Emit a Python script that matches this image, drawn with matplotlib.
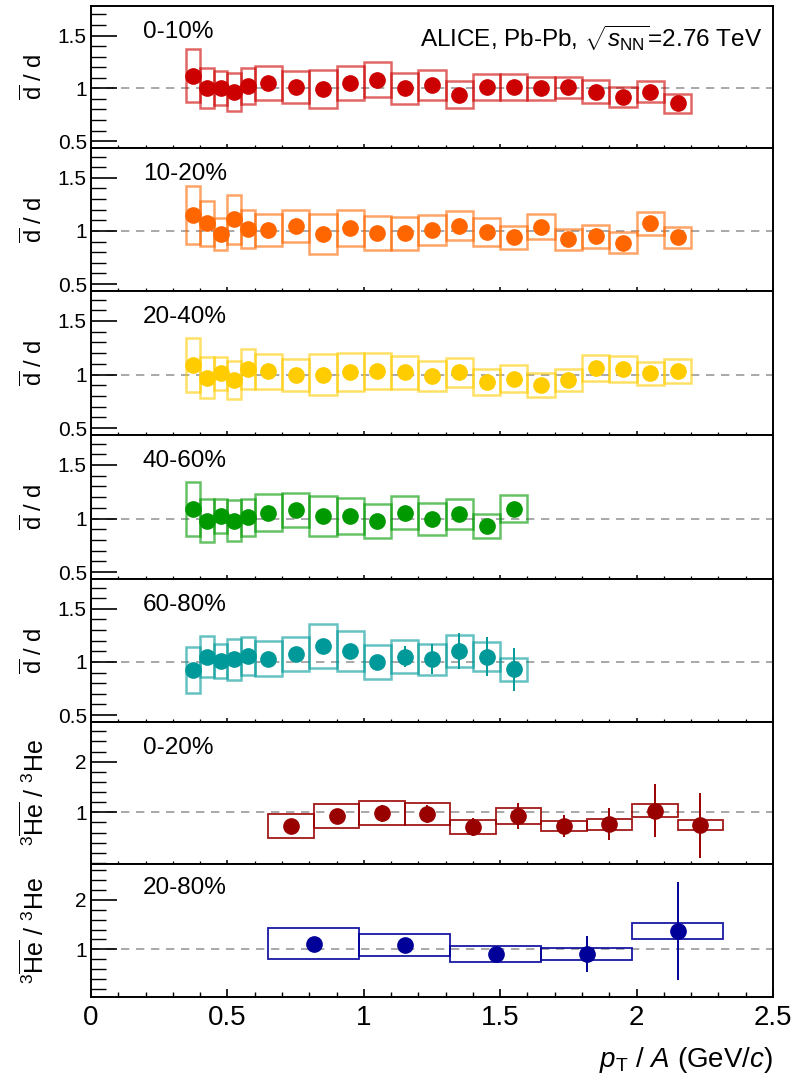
import matplotlib
matplotlib.use("Agg")
import matplotlib.pyplot as plt
from matplotlib.patches import Rectangle
from matplotlib.ticker import MultipleLocator, FixedLocator, FixedFormatter

plt.rcParams['font.family'] = ['Liberation Sans', 'DejaVu Sans']
plt.rcParams['mathtext.fontset'] = 'custom'
plt.rcParams['mathtext.rm'] = 'Liberation Sans'
plt.rcParams['mathtext.it'] = 'Liberation Sans:italic'
plt.rcParams['mathtext.bf'] = 'Liberation Sans:bold'

# ---------------- data ----------------
d_edges_full = [0.35, 0.40, 0.45, 0.50, 0.55, 0.60, 0.70, 0.80, 0.90, 1.00, 1.10,
                1.20, 1.30, 1.40, 1.50, 1.60, 1.70, 1.80, 1.90, 2.00, 2.10, 2.20]
d_edges_short = [0.35, 0.40, 0.45, 0.50, 0.55, 0.60, 0.70, 0.80, 0.90, 1.00, 1.10,
                 1.20, 1.30, 1.40, 1.50, 1.60]

d_0_10 = [1.12, 1.00, 1.00, 0.97, 1.02, 1.05, 1.01, 0.99, 1.05, 1.08, 1.00,
          1.03, 0.94, 1.01, 1.01, 1.00, 1.01, 0.97, 0.92, 0.97, 0.86]
d_0_10_sys = [0.25, 0.19, 0.16, 0.18, 0.17, 0.165, 0.15, 0.18, 0.16, 0.165, 0.15,
              0.14, 0.125, 0.125, 0.125, 0.11, 0.10, 0.11, 0.095, 0.10, 0.09]
d_0_10_stat = [0.02, 0.02, 0.02, 0.02, 0.02, 0.02, 0.02, 0.02, 0.02, 0.02, 0.02,
               0.02, 0.02, 0.02, 0.02, 0.02, 0.02, 0.02, 0.03, 0.03, 0.03]

d_10_20 = [1.15, 1.07, 0.975, 1.11, 1.015, 1.01, 1.045, 0.97, 1.03, 0.98, 0.98,
           1.01, 1.05, 0.99, 0.94, 1.04, 0.92, 0.95, 0.89, 1.07, 0.94]
d_10_20_sys = [0.27, 0.21, 0.15, 0.23, 0.18, 0.15, 0.15, 0.185, 0.17, 0.16, 0.155,
               0.14, 0.14, 0.13, 0.11, 0.115, 0.10, 0.11, 0.10, 0.11, 0.10]
d_10_20_stat = [0.02, 0.02, 0.02, 0.02, 0.02, 0.02, 0.02, 0.02, 0.02, 0.02, 0.02,
                0.02, 0.02, 0.02, 0.02, 0.03, 0.03, 0.03, 0.03, 0.04, 0.04]

d_20_40 = [1.09, 0.97, 1.01, 0.95, 1.05, 1.03, 0.995, 1.00, 1.025, 1.03, 1.02,
           0.99, 1.02, 0.93, 0.96, 0.90, 0.95, 1.06, 1.05, 1.01, 1.035]
d_20_40_sys = [0.25, 0.19, 0.155, 0.18, 0.185, 0.165, 0.15, 0.19, 0.18, 0.17, 0.155,
               0.14, 0.135, 0.12, 0.125, 0.11, 0.10, 0.12, 0.12, 0.11, 0.11]
d_20_40_stat = [0.02, 0.02, 0.02, 0.02, 0.02, 0.02, 0.02, 0.02, 0.02, 0.02, 0.02,
                0.02, 0.02, 0.02, 0.02, 0.03, 0.03, 0.03, 0.03, 0.04, 0.04]

d_40_60 = [1.09, 0.98, 1.025, 0.98, 1.01, 1.055, 1.08, 1.025, 1.025, 0.98, 1.055,
           0.995, 1.04, 0.93, 1.09]
d_40_60_sys = [0.25, 0.20, 0.16, 0.19, 0.17, 0.17, 0.16, 0.185, 0.17, 0.16, 0.155,
               0.15, 0.14, 0.11, 0.125]
d_40_60_stat = [0.02, 0.02, 0.02, 0.02, 0.02, 0.02, 0.02, 0.02, 0.02, 0.03, 0.03,
                0.03, 0.04, 0.05, 0.06]

d_60_80 = [0.925, 1.05, 1.01, 1.025, 1.055, 1.03, 1.07, 1.15, 1.10, 1.00, 1.05,
           1.025, 1.10, 1.05, 0.93]
d_60_80_sys = [0.215, 0.19, 0.16, 0.195, 0.18, 0.165, 0.16, 0.21, 0.19, 0.16, 0.155,
               0.145, 0.15, 0.135, 0.11]
d_60_80_stat = [0.02, 0.02, 0.02, 0.02, 0.02, 0.02, 0.03, 0.04, 0.05, 0.06, 0.10,
                0.14, 0.17, 0.18, 0.20]

he_0_20_edges = [0.650, 0.817, 0.983, 1.150, 1.317, 1.483, 1.650, 1.817, 1.983, 2.150, 2.317]
he_0_20 = [0.733, 0.927, 0.98, 0.967, 0.713, 0.927, 0.733, 0.767, 1.033, 0.747]
he_0_20_sys = [0.233, 0.237, 0.237, 0.223, 0.137, 0.16, 0.103, 0.11, 0.133, 0.103]
he_0_20_stat = [0.05, 0.08, 0.17, 0.17, 0.18, 0.26, 0.22, 0.32, 0.52, 0.64]

he_20_80_edges = [0.650, 0.983, 1.317, 1.650, 1.983, 2.317]
he_20_80 = [1.108, 1.088, 0.905, 0.905, 1.37]
he_20_80_sys = [0.314, 0.23, 0.16, 0.125, 0.17]
he_20_80_stat = [0.08, 0.10, 0.15, 0.36, 1.00]

centralities = ['0-10%', '10-20%', '20-40%', '40-60%', '60-80%', '0-20%', '20-80%']

panels = [
    (d_edges_full, d_0_10, d_0_10_sys, d_0_10_stat, '#cc0000', 'd'),
    (d_edges_full, d_10_20, d_10_20_sys, d_10_20_stat, '#ff6600', 'd'),
    (d_edges_full, d_20_40, d_20_40_sys, d_20_40_stat, '#ffcc00', 'd'),
    (d_edges_short, d_40_60, d_40_60_sys, d_40_60_stat, '#009900', 'd'),
    (d_edges_short, d_60_80, d_60_80_sys, d_60_80_stat, '#009999', 'd'),
    (he_0_20_edges, he_0_20, he_0_20_sys, he_0_20_stat, '#990000', 'he'),
    (he_20_80_edges, he_20_80, he_20_80_sys, he_20_80_stat, '#000099', 'he'),
]

# ---------------- layout ----------------
W, H = 806, 1083
fig = plt.figure(figsize=(W / 100, H / 100), dpi=100)
left_px, right_px = 91, 773
bounds_px = [6, 148, 291, 435, 579, 722, 864, 997]
ylims = [(0.435, 1.78)] * 5 + [(-0.02, 2.785), (0.03, 2.73)]

for i, (edges, vals, sys, stat, col, kind) in enumerate(panels):
    top, bot = bounds_px[i], bounds_px[i + 1]
    ax = fig.add_axes([left_px / W, 1 - bot / H, (right_px - left_px) / W, (bot - top) / H])
    ax.set_xlim(0, 2.5)
    ax.set_ylim(*ylims[i])
    ax.axhline(1.0, color='#999999', lw=1.2, ls=(0, (5, 4)), zorder=1)

    centers = [(edges[k] + edges[k + 1]) / 2 for k in range(len(vals))]
    for k in range(len(vals)):
        lo, hi = edges[k], edges[k + 1]
        if kind == 'd':
            r = Rectangle((lo, vals[k] - sys[k]), hi - lo, 2 * sys[k], fill=False,
                          edgecolor=col, lw=1.8, alpha=0.6, zorder=2)
        else:
            r = Rectangle((lo, vals[k] - sys[k]), hi - lo, 2 * sys[k], fill=False,
                          edgecolor=col, lw=1.3, alpha=0.9, zorder=2)
        ax.add_patch(r)
    ax.errorbar(centers, vals, yerr=stat, fmt='o', ms=11, color=col, mec=col,
                elinewidth=1.4, capsize=0, zorder=3)

    # ticks
    ax.xaxis.set_major_locator(MultipleLocator(0.5))
    ax.xaxis.set_minor_locator(MultipleLocator(0.1))
    if kind == 'd':
        ax.yaxis.set_major_locator(FixedLocator([0.5, 1.0, 1.5]))
        ax.yaxis.set_major_formatter(FixedFormatter(['0.5', '1', '1.5']))
        ax.yaxis.set_minor_locator(MultipleLocator(0.1))
        ylabel = r'$\overline{\mathrm{d}}$ / d'
        ylab_fs = 17
    else:
        ax.yaxis.set_major_locator(FixedLocator([1.0, 2.0]))
        ax.yaxis.set_major_formatter(FixedFormatter(['1', '2']))
        ax.yaxis.set_minor_locator(MultipleLocator(0.2))
        ylabel = r'$^{3}\overline{\mathrm{He}}$ / $^{3}$He'
        ylab_fs = 18
    ax.tick_params(axis='y', which='major', direction='in', length=19, width=1.2,
                   labelsize=15, pad=3, right=False)
    ax.tick_params(axis='y', which='minor', direction='in', length=11, width=1.0, right=False)
    if i == len(panels) - 1:
        ax.tick_params(axis='x', which='major', direction='in', length=6, width=1.2,
                       labelsize=20, pad=6, top=False)
        ax.tick_params(axis='x', which='minor', direction='in', length=3.6, width=1.0, top=False)
        ax.xaxis.set_major_formatter(FixedFormatter(['0', '0.5', '1', '1.5', '2', '2.5']))
        ax.xaxis.set_major_locator(FixedLocator([0, 0.5, 1.0, 1.5, 2.0, 2.5]))
    else:
        ax.tick_params(axis='x', which='major', direction='in', length=3, width=1.1,
                       labelbottom=False, top=False)
        ax.tick_params(axis='x', which='minor', direction='in', length=2, width=0.9, top=False)
    for s in ax.spines.values():
        s.set_linewidth(1.4)

    ax.text(-0.084, 0.5, ylabel, rotation=90, ha='center', va='center',
            transform=ax.transAxes, fontsize=ylab_fs)
    ax.text(0.076, 0.82, centralities[i], ha='left', va='center',
            transform=ax.transAxes, fontsize=17.5)
    if i == 0:
        ax.text(0.984, 0.775, r'ALICE, Pb-Pb, $\sqrt{s_{\mathrm{NN}}}$=2.76 TeV',
                ha='right', va='center', transform=ax.transAxes, fontsize=17.5)
    if i == len(panels) - 1:
        ax.text(1.0, -0.47, r'$p_{\mathrm{T}}$ / $A$ (GeV/$c$)', ha='right', va='center',
                transform=ax.transAxes, fontsize=20)

fig.savefig('out.png', dpi=100)
